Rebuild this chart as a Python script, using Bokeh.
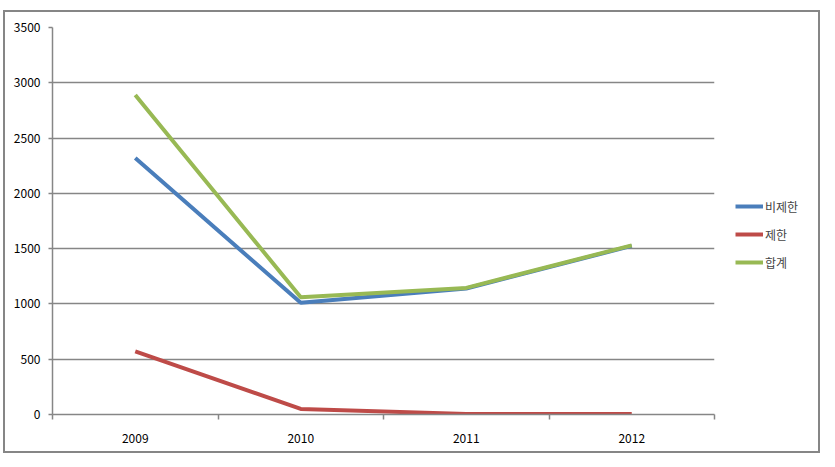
from bokeh.plotting import figure
from bokeh.models import FixedTicker, Legend, LegendItem, Range1d
from bokeh.embed import file_html
from bokeh.resources import INLINE

years = ["2009", "2010", "2011", "2012"]
unrestricted = [2320, 1010, 1140, 1525]   # 비제한
restricted = [570, 50, 5, 5]              # 제한
total = [2890, 1060, 1145, 1530]          # 합계
y_ticks = [0, 500, 1000, 1500, 2000, 2500, 3000, 3500]

FONT = "Noto Sans CJK KR"
GRAY = "#868686"

xs = list(range(1, len(years) + 1))

p = figure(output_backend="svg", toolbar_location=None,
           x_range=Range1d(0.5, len(years) + 0.5), y_range=Range1d(0, 3500),
           min_border_left=47, min_border_right=0, min_border_top=15, min_border_bottom=37)
p.frame_width = 662
p.frame_height = 387
p.outline_line_color = None
p.background_fill_color = "white"
p.border_fill_color = "white"
p.styles = {"margin-left": "3px", "margin-top": "10px", "border": "2px solid #868686",
            "width": "813px", "height": "439px", "box-sizing": "content-box",
            "overflow": "hidden"}

r1 = p.line(xs, unrestricted, line_color="#4a7ebb", line_width=4)
r2 = p.line(xs, restricted, line_color="#be4b48", line_width=4)
r3 = p.line(xs, total, line_color="#98b954", line_width=4)

# x axis
p.xaxis.ticker = FixedTicker(ticks=xs, minor_ticks=[x + 0.5 for x in [0] + xs])
p.xaxis.major_label_overrides = {x: y for x, y in zip(xs, years)}
p.xaxis.major_tick_out = 0
p.xaxis.major_tick_in = 0
p.xaxis.minor_tick_out = 5
p.xaxis.minor_tick_in = 0
p.xaxis.minor_tick_line_color = GRAY
p.xaxis.minor_tick_line_width = 1.5
p.xaxis.axis_line_color = GRAY
p.xaxis.axis_line_width = 1.5
p.xaxis.major_label_standoff = 14
p.xaxis.major_label_text_font = FONT
p.xaxis.major_label_text_font_size = "12px"
p.xaxis.major_label_text_color = "black"

# y axis
p.yaxis.ticker = FixedTicker(ticks=y_ticks)
p.yaxis.major_tick_out = 4
p.yaxis.major_tick_in = 0
p.yaxis.minor_tick_line_color = None
p.yaxis.major_tick_line_color = GRAY
p.yaxis.major_tick_line_width = 1.5
p.yaxis.axis_line_color = GRAY
p.yaxis.axis_line_width = 1.5
p.yaxis.major_label_standoff = 8
p.yaxis.major_label_text_font = FONT
p.yaxis.major_label_text_font_size = "12px"
p.yaxis.major_label_text_color = "black"

p.xgrid.grid_line_color = None
p.ygrid.ticker = FixedTicker(ticks=y_ticks)
p.ygrid.grid_line_color = GRAY
p.ygrid.grid_line_width = 1.5

legend = Legend(items=[LegendItem(label="비제한", renderers=[r1]),
                       LegendItem(label="제한", renderers=[r2]),
                       LegendItem(label="합계", renderers=[r3])],
                location=(21, 142), orientation="vertical")
legend.border_line_color = None
legend.background_fill_alpha = 0
legend.padding = 0
legend.margin = 0
legend.spacing = 8
legend.glyph_width = 28
legend.glyph_height = 20
legend.label_standoff = 2
legend.label_text_font = FONT
legend.label_text_font_size = "12px"
legend.label_height = 20
p.add_layout(legend, "right")

open("out.html", "w").write(file_html(p, INLINE))
